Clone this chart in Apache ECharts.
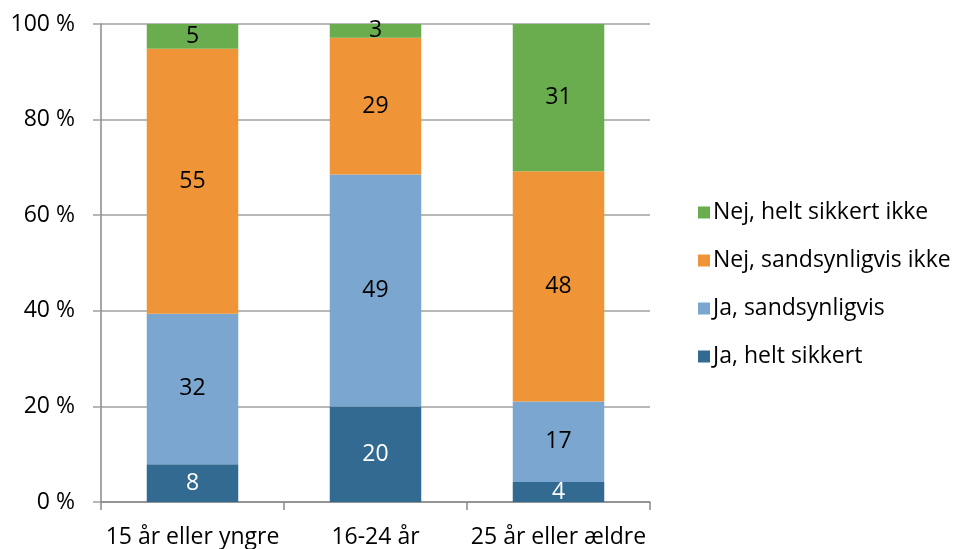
<!DOCTYPE html>
<html>
<head>
<meta charset="utf-8">
<script src="https://cdn.jsdelivr.net/npm/echarts@6/dist/echarts.min.js"></script>
<style>
  html, body { margin: 0; padding: 0; background: #fff; }
  #chart { width: 957px; height: 549px; }
</style>
</head>
<body>
<div id="chart"></div>
<script>
// age groups on the x axis
const categories = ['15 år eller yngre', '16-24 år', '25 år eller ældre']
// share in percent
const jaHeltSikkert = [7.9, 20.0, 4.2]
const jaSandsynligvis = [31.5, 48.5, 16.8]
const nejSandsynligvisIkke = [55.4, 28.6, 48.2]
const nejHeltSikkertIkke = [5.2, 2.9, 30.8]
const yTicks = [0, 20, 40, 60, 80, 100]

const fontFamily = '"Open Sans", sans-serif'
const fs = 23
const chart = echarts.init(document.getElementById('chart'))

function serie (name, data, color, labelColor) {
  return {
    name: name,
    type: 'bar',
    stack: 'all',
    data: data,
    barWidth: '50%',
    itemStyle: { color: color },
    label: {
      show: true,
      position: 'inside',
      color: labelColor,
      fontFamily: fontFamily,
      fontSize: fs,
      formatter: p => Math.round(p.value)
    }
  }
}

chart.setOption({
  animation: false,
  textStyle: { fontFamily: fontFamily },
  grid: { left: 101, right: 307, top: 24, bottom: 45 },
  legend: {
    orient: 'vertical',
    left: 693,
    top: 196,
    itemWidth: 12,
    itemHeight: 12,
    itemGap: 25,
    icon: 'rect',
    textStyle: { fontSize: fs, color: '#000', fontFamily: fontFamily, padding: [0, 0, 0, -2] },
    data: ['Nej, helt sikkert ikke', 'Nej, sandsynligvis ikke', 'Ja, sandsynligvis', 'Ja, helt sikkert']
  },
  xAxis: {
    type: 'category',
    data: categories,
    axisLine: { lineStyle: { color: '#888', width: 1.5 } },
    axisTick: { show: true, length: 8, lineStyle: { color: '#888', width: 1.5 } },
    axisLabel: { color: '#000', fontSize: fs, margin: 24, interval: 0, hideOverlap: false, fontFamily: fontFamily }
  },
  yAxis: {
    type: 'value',
    min: yTicks[0],
    max: yTicks[yTicks.length - 1],
    interval: 20,
    axisLine: { show: true, lineStyle: { color: '#888', width: 1.5 } },
    axisTick: { show: true, length: 8, lineStyle: { color: '#a0a0a0', width: 1.5 } },
    splitLine: { lineStyle: { color: '#a0a0a0', width: 1.5 } },
    axisLabel: { color: '#000', fontSize: fs, margin: 26, fontFamily: fontFamily, formatter: '{value} %' }
  },
  series: [
    serie('Ja, helt sikkert', jaHeltSikkert, '#336a91', '#fff'),
    serie('Ja, sandsynligvis', jaSandsynligvis, '#7aa6cf', '#000'),
    serie('Nej, sandsynligvis ikke', nejSandsynligvisIkke, '#ef9537', '#000'),
    serie('Nej, helt sikkert ikke', nejHeltSikkertIkke, '#6aad4f', '#000')
  ]
})
</script>
</body>
</html>
